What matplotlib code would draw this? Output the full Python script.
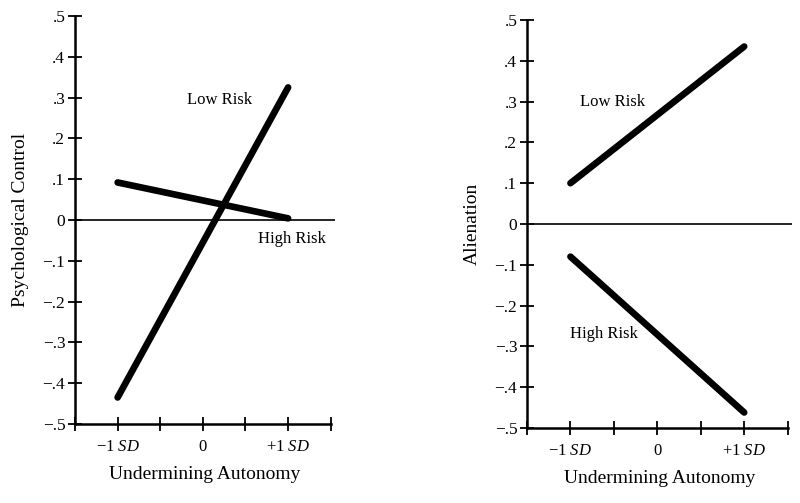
import matplotlib
matplotlib.use('Agg')
import matplotlib.pyplot as plt

plt.rcParams['font.family'] = ['Liberation Serif', 'DejaVu Serif']
plt.rcParams['mathtext.fontset'] = 'custom'
plt.rcParams['mathtext.rm'] = 'Liberation Serif'
plt.rcParams['mathtext.it'] = 'Liberation Serif:italic'

# x positions in SD units
sd_points = [-1, 1]

# left panel: psychological control
pc_low_risk = [-0.435, 0.325]
pc_high_risk = [0.092, 0.004]

# right panel: alienation
al_low_risk = [0.10, 0.435]
al_high_risk = [-0.08, -0.462]

y_ticks = [-0.5, -0.4, -0.3, -0.2, -0.1, 0, 0.1, 0.2, 0.3, 0.4, 0.5]
y_tick_labels = ['\u2212.5', '\u2212.4', '\u2212.3', '\u2212.2', '\u2212.1', '0',
                 '.1', '.2', '.3', '.4', '.5']
x_ticks = [-1.5, -1, -0.5, 0, 0.5, 1, 1.5]
x_tick_labels = ['', '\u22121 $\\mathit{SD}$', '', '0', '', '+1 $\\mathit{SD}$', '']


def draw_panel(ax, low, high, ylabel, low_pos, high_pos):
    ax.plot(sd_points, low, color='black', lw=4.8, solid_capstyle='round')
    ax.plot(sd_points, high, color='black', lw=4.8, solid_capstyle='round')
    ax.axhline(0, color='black', lw=1.2)
    ax.set_xlim(-1.5, 1.55)
    ax.set_ylim(-0.5, 0.5)
    for s in ['top', 'right']:
        ax.spines[s].set_visible(False)
    ax.spines['left'].set_linewidth(1.8)
    ax.spines['bottom'].set_linewidth(1.8)
    ax.spines['bottom'].set_bounds(-1.5, 1.5)
    ax.set_yticks(y_ticks)
    ax.set_yticklabels(y_tick_labels)
    ax.set_xticks(x_ticks)
    ax.set_xticklabels(x_tick_labels)
    ax.tick_params(direction='inout', length=10, width=1.3)
    ax.tick_params(axis='x', pad=6, labelsize=12)
    ax.tick_params(axis='y', pad=2, labelsize=12.5)
    ax.set_xlabel('Undermining Autonomy', fontsize=14, labelpad=8)
    ax.set_ylabel(ylabel, fontsize=14, labelpad=10)
    ax.text(low_pos[0], low_pos[1], 'Low Risk', fontsize=12, ha='center', va='center')
    ax.text(high_pos[0], high_pos[1], 'High Risk', fontsize=12, ha='center', va='center')


fig = plt.figure(figsize=(8, 5.03), dpi=100)
ax1 = fig.add_axes([75 / 800, 79 / 503, 260 / 800, 408 / 503])
ax2 = fig.add_axes([527 / 800, 75 / 503, 265 / 800, 408 / 503])

draw_panel(ax1, pc_low_risk, pc_high_risk, 'Psychological Control',
           (0.19, 0.295), (1.05, -0.046))
draw_panel(ax2, al_low_risk, al_high_risk, 'Alienation',
           (-0.52, 0.30), (-0.62, -0.27))

fig.savefig('out.png', dpi=100)
